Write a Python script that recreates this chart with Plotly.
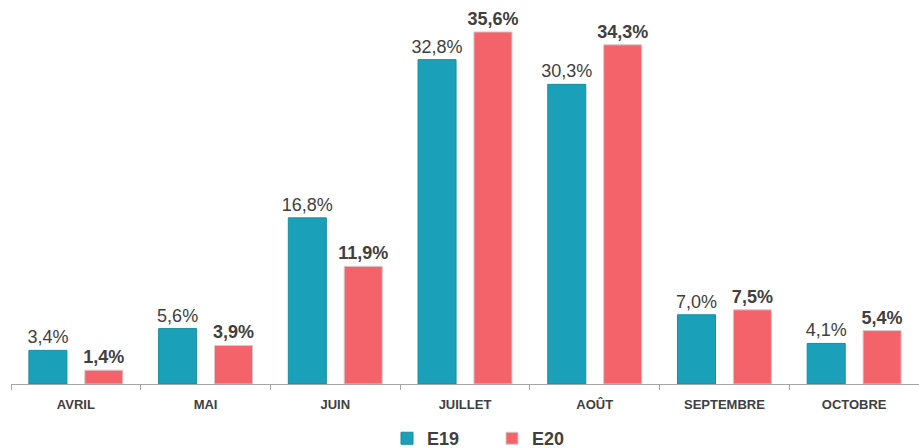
import plotly.graph_objects as go

months = ["AVRIL", "MAI", "JUIN", "JUILLET", "AOÛT", "SEPTEMBRE", "OCTOBRE"]
e19 = [3.4, 5.6, 16.8, 32.8, 30.3, 7.0, 4.1]
e20 = [1.4, 3.9, 11.9, 35.6, 34.3, 7.5, 5.4]

def fr(v):
    return f"{v:.1f}".replace(".", ",") + "%"

fig = go.Figure()
fig.add_trace(go.Bar(
    x=months, y=e19, name="<b>E19</b>",
    marker=dict(color="#1AA0B8", line=dict(color="#178E9E", width=1)),
    text=[fr(v) for v in e19], textposition="outside", constraintext="none",
    textfont=dict(family="Liberation Sans, Arial", size=18, color="#404040"),
    cliponaxis=False,
))
fig.add_trace(go.Bar(
    x=months, y=e20, name="<b>E20</b>",
    marker=dict(color="#F4626A", line=dict(color="#D9C8C8", width=1)),
    text=[f"<b>{fr(v)}</b>" for v in e20], textposition="outside", constraintext="none",
    textfont=dict(family="Liberation Sans, Arial", size=18, color="#404040"),
    cliponaxis=False,
))

fig.update_layout(
    width=919, height=448,
    margin=dict(l=11, r=0, t=0, b=64, autoexpand=False),
    plot_bgcolor="white", paper_bgcolor="white",
    barmode="group", bargap=0.138, bargroupgap=0.32,
    font=dict(family="Liberation Sans, Arial", color="#404040"),
    showlegend=True,
    legend=dict(orientation="h", x=0.5 + 27 / 908, xanchor="center", y=-0.142, yanchor="middle",
                font=dict(size=18, color="#404040", family="Liberation Sans, Arial"),
                itemwidth=30, entrywidth=60, entrywidthmode="pixels", traceorder="normal"),
)
fig.update_xaxes(
    showline=True, linecolor="#A6A6A6", linewidth=1, automargin=False,
    ticks="outside", tickson="boundaries", ticklen=5, tickcolor="#A6A6A6",
    ticklabelstandoff=8,
    tickfont=dict(size=13, color="#404040", family="Liberation Sans, Arial"),
    tickprefix="<b>", ticksuffix="</b>",
    showgrid=False,
)
fig.update_yaxes(range=[0, 38.83], visible=False, showgrid=False, automargin=False)

fig.write_html("out.html", config={"displayModeBar": False},
               post_script="document.body.style.margin='0';")
